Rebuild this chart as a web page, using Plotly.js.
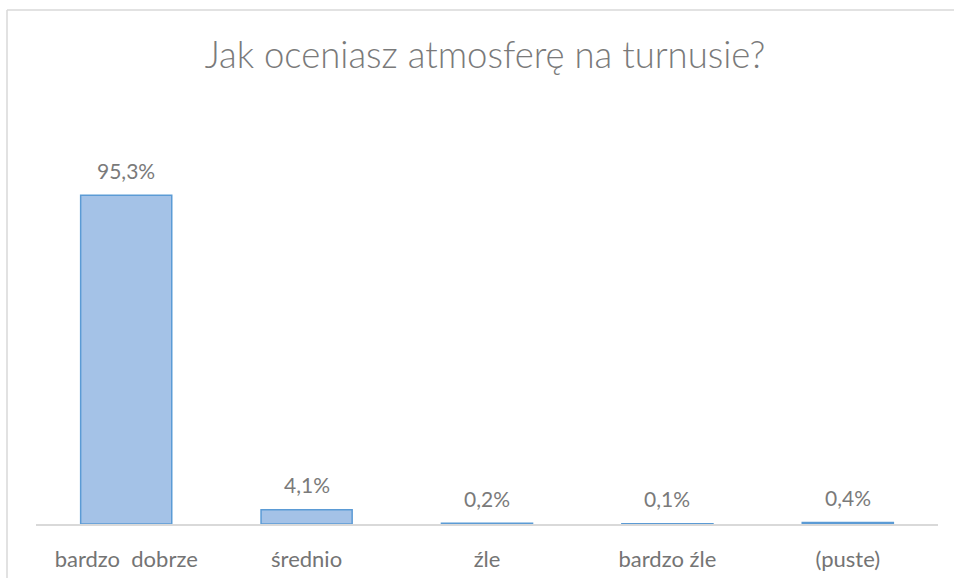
<!DOCTYPE html>
<html>
<head>
<meta charset="utf-8">
<script src="https://cdn.plot.ly/plotly-3.0.1.min.js"></script>
<style>
  html, body { margin: 0; padding: 0; background: #ffffff; }
  #chart { width: 954px; height: 578px; }
</style>
</head>
<body>
<div id="chart"></div>
<script>
const chartTitle = "Jak oceniasz atmosferę na turnusie?";
const categories = ["bardzo  dobrze", "średnio", "źle", "bardzo źle", "(puste)"];
const values = [95.3, 4.1, 0.2, 0.1, 0.4];

const FONT = "Lato, 'Open Sans', sans-serif";
const W = 954, H = 578;
const plotL = 36, plotR = 938, plotT = 179, plotB = 524;

const trace = {
  type: "bar",
  x: categories,
  y: values,
  width: 0.505,
  marker: {
    color: "#a4c2e7",
    line: { color: "#5b9bd5", width: 1.5 }
  },
  hoverinfo: "skip"
};

const annotations = categories.map((c, i) => ({
  x: c,
  y: values[i],
  xref: "x",
  yref: "y",
  text: values[i].toFixed(1).replace(".", ",") + "%",
  showarrow: false,
  yanchor: "middle",
  yshift: 25,
  font: { family: FONT, size: 21, color: "#7a7a7a" }
}));

const layout = {
  width: W,
  height: H,
  margin: { l: plotL, r: W - plotR, t: plotT, b: H - plotB, pad: 0 },
  paper_bgcolor: "#ffffff",
  plot_bgcolor: "#ffffff",
  showlegend: false,
  title: {
    text: chartTitle,
    x: 485 / W,
    xref: "container",
    xanchor: "center",
    y: 1 - 55 / H,
    yref: "container",
    yanchor: "middle",
    font: { family: FONT, size: 36.5, color: "#7a7a7a", weight: 300 }
  },
  xaxis: {
    type: "category",
    showgrid: false,
    zeroline: false,
    showline: true,
    linecolor: "#d9d9d9",
    linewidth: 1.5,
    ticks: "",
    ticklabelstandoff: 15,
    tickfont: { family: FONT, size: 22, color: "#747474" },
    fixedrange: true
  },
  yaxis: {
    range: [0, 100],
    visible: false,
    showgrid: false,
    zeroline: false,
    fixedrange: true
  },
  annotations: annotations,
  shapes: [
    {
      type: "line", xref: "paper", yref: "paper", layer: "below",
      x0: (7 - plotL) / (plotR - plotL), x1: (7 - plotL) / (plotR - plotL),
      y0: (plotB - 10) / (plotB - plotT), y1: (plotB - 600) / (plotB - plotT),
      line: { color: "#d9d9d9", width: 1.5 }
    },
    {
      type: "line", xref: "paper", yref: "paper", layer: "below",
      x0: (7 - plotL) / (plotR - plotL), x1: (1000 - plotL) / (plotR - plotL),
      y0: (plotB - 10) / (plotB - plotT), y1: (plotB - 10) / (plotB - plotT),
      line: { color: "#d9d9d9", width: 1.5 }
    }
  ]
};

Plotly.newPlot("chart", [trace], layout, { displayModeBar: false, staticPlot: true });
</script>
</body>
</html>
